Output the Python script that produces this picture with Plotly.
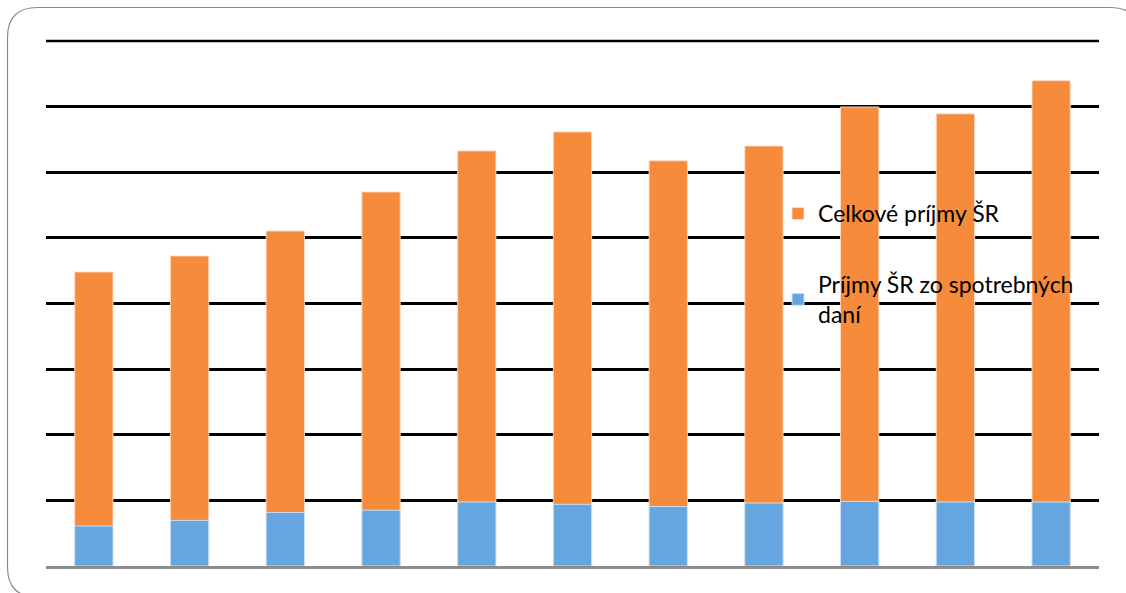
import plotly.graph_objects as go

categories = ["1", "2", "3", "4", "5", "6", "7", "8", "9", "10", "11"]
celkove_prijmy = [8960, 9450, 10210, 11400, 12650, 13230, 12350, 12800, 13990, 13780, 14790]
spotrebne_dane = [1220, 1390, 1630, 1700, 1950, 1880, 1810, 1920, 1970, 1950, 1950]

W, H = 1126, 593
L, R, T, B = 46, 27, 41, 27
pw, ph = W - L - R, H - T - B

def px(x):
    return (x - L) / pw

def py(y):
    return (H - B - y) / ph

fig = go.Figure()
fig.add_trace(go.Bar(
    x=categories, y=celkove_prijmy, name="Celkové príjmy ŠR",
    marker=dict(color="#F68B3B", line=dict(color="rgba(255,220,200,0.9)", width=1)),
    legendgroup="a",
))
fig.add_trace(go.Bar(
    x=categories, y=spotrebne_dane, name="Príjmy ŠR zo spotrebných<br>daní",
    marker=dict(color="#65A5E0", line=dict(color="rgba(210,230,250,0.9)", width=1)),
    legendgroup="b",
))

# rounded frame
x0, y0, x1, y1, r = 7.5, 7.5, 1140, 597, 30
path = (
    f"M {px(x0 + r)},{py(y0)} L {px(x1 - r)},{py(y0)} "
    f"Q {px(x1)},{py(y0)} {px(x1)},{py(y0 + r)} "
    f"L {px(x1)},{py(y1 - r)} Q {px(x1)},{py(y1)} {px(x1 - r)},{py(y1)} "
    f"L {px(x0 + r)},{py(y1)} Q {px(x0)},{py(y1)} {px(x0)},{py(y1 - r)} "
    f"L {px(x0)},{py(y0 + r)} Q {px(x0)},{py(y0)} {px(x0 + r)},{py(y0)} Z"
)

fig.update_layout(
    width=W, height=H,
    margin=dict(l=L, r=R, t=T, b=B),
    paper_bgcolor="white", plot_bgcolor="white",
    barmode="overlay", bargap=0.6,
    showlegend=True,
    legend=dict(
        x=px(778), y=py(192), xanchor="left", yanchor="top",
        xref="paper", yref="paper",
        font=dict(family="Lato", size=23, color="#000000"),
        bgcolor="rgba(0,0,0,0)", traceorder="grouped", tracegroupgap=38,
        itemclick=False,
    ),
    xaxis=dict(showticklabels=False, ticks="", showgrid=False,
               showline=True, linecolor="#8C8C8C", linewidth=2.5),
    yaxis=dict(range=[0, 16000], dtick=2000, showticklabels=False, ticks="",
               showgrid=True, gridcolor="#000000", gridwidth=2.5,
               zeroline=False, showline=False),
    shapes=[
        dict(type="path", path=path, xref="paper", yref="paper",
             line=dict(color="#8A8A8A", width=1.2), layer="below"),
        dict(type="line", xref="paper", yref="paper", x0=0, x1=1, y0=1, y1=1,
             line=dict(color="#000000", width=2.5), layer="below"),
    ],
)

fig.write_html("out.html")
